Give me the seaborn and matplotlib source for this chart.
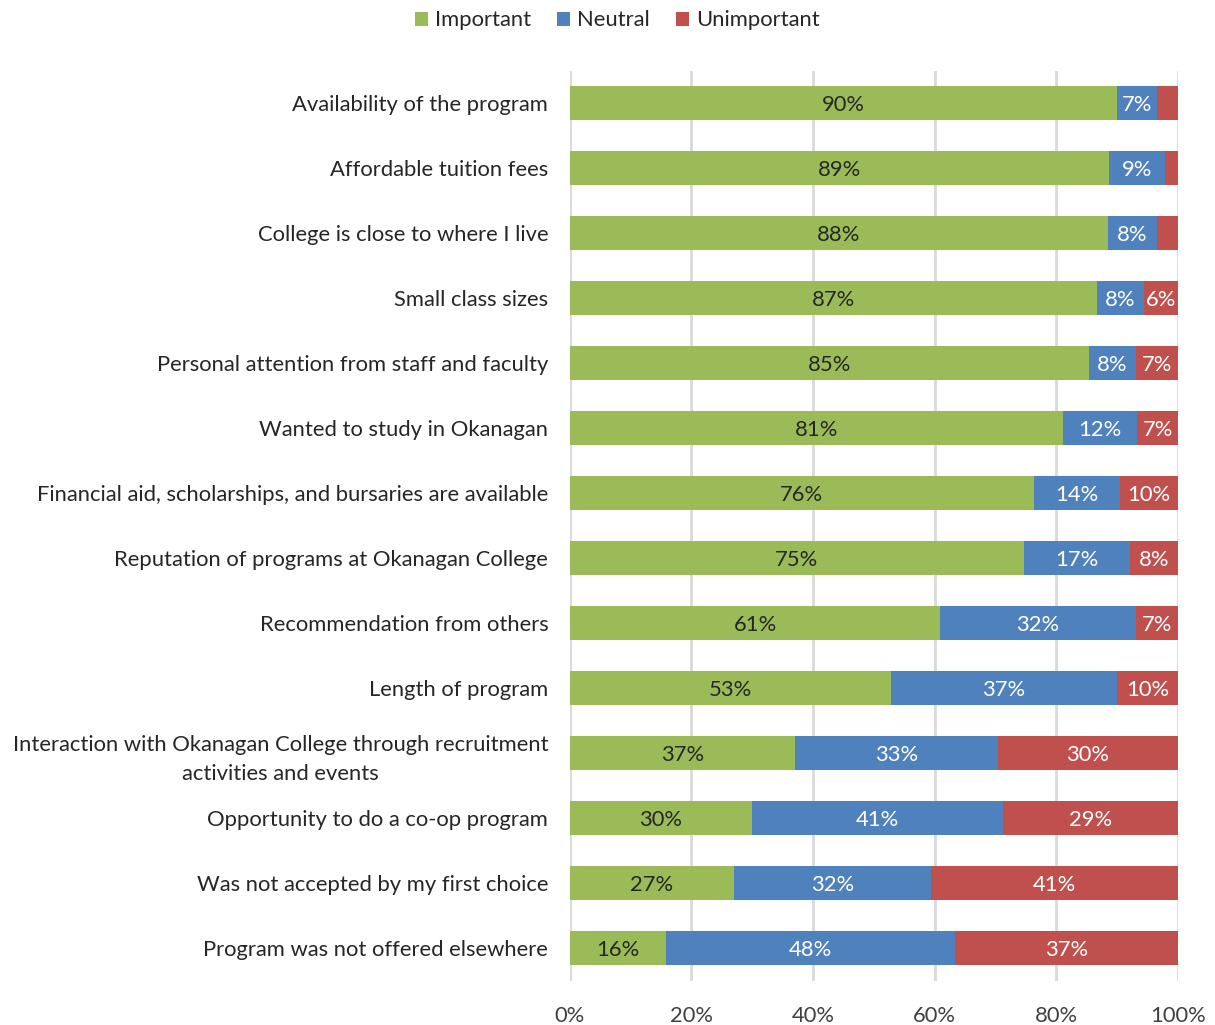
import matplotlib.pyplot as plt
import seaborn as sns
import pandas as pd
import numpy as np

factors = ["Availability of the program",
           "Affordable tuition fees",
           "College is close to where I live",
           "Small class sizes",
           "Personal attention from staff and faculty",
           "Wanted to study in Okanagan",
           "Financial aid, scholarships, and bursaries are available",
           "Reputation of programs at Okanagan College",
           "Recommendation from others",
           "Length of program",
           "Interaction with Okanagan College through recruitment\nactivities and events",
           "Opportunity to do a co-op program",
           "Was not accepted by my first choice",
           "Program was not offered elsewhere"]
important = [90.0, 88.7, 88.5, 86.7, 85.4, 81.1, 76.3, 74.7, 60.9, 52.8, 37.0, 29.9, 27.0, 15.8]
neutral = [6.6, 9.2, 8.0, 7.7, 7.7, 12.2, 14.1, 17.4, 32.2, 37.2, 33.4, 41.4, 32.4, 47.6]
unimportant = [3.4, 2.1, 3.5, 5.6, 6.9, 6.7, 9.6, 7.9, 6.9, 10.0, 29.6, 28.7, 40.6, 36.6]

green, blue, red = "#9BBB59", "#4F81BD", "#C0504D"

df = pd.DataFrame({"factor": factors, "Important": important,
                   "Neutral": neutral, "Unimportant": unimportant})
df["imp_neu"] = df.Important + df.Neutral
df["total"] = df.imp_neu + df.Unimportant

sns.set_style("white")
plt.rcParams['font.family'] = ['Lato', 'DejaVu Sans']

fig = plt.figure(figsize=(12.15, 10.25), dpi=100)
ax = fig.add_axes([0.469, 0.0434, 0.5005, 0.8878])

# stacked look: draw cumulative totals on top of each other
sns.barplot(data=df, y="factor", x="total", color=red, width=0.52, saturation=1,
            orient="h", ax=ax, label="Unimportant", zorder=2, linewidth=0)
sns.barplot(data=df, y="factor", x="imp_neu", color=blue, width=0.52, saturation=1,
            orient="h", ax=ax, label="Neutral", zorder=3, linewidth=0)
sns.barplot(data=df, y="factor", x="Important", color=green, width=0.52, saturation=1,
            orient="h", ax=ax, label="Important", zorder=4, linewidth=0)

fs = 15.8
for i, row in df.iterrows():
    ax.text(row.Important / 2, i, f"{row.Important:.0f}%", ha="center", va="center_baseline",
            fontsize=fs, color="#262626", zorder=5)
    ax.text(row.Important + row.Neutral / 2, i, f"{row.Neutral:.0f}%", ha="center",
            va="center_baseline", fontsize=fs, color="white", zorder=5)
    if row.Unimportant >= 5:
        ax.text(row.imp_neu + row.Unimportant / 2, i, f"{row.Unimportant:.0f}%",
                ha="center", va="center_baseline", fontsize=fs, color="white", zorder=5)

ax.set_xlim(0, 100)
ax.set_xticks(np.arange(0, 101, 20))
ax.set_xticklabels([f"{t}%" for t in range(0, 101, 20)], fontsize=fs, color="#404040")
ax.tick_params(axis="x", length=0, pad=18)
ax.tick_params(axis="y", length=0, pad=15.5, labelsize=fs, labelcolor="#262626")
for lbl in ax.get_yticklabels():
    lbl.set_horizontalalignment("right")
    lbl.set_multialignment("center")
    lbl.set_linespacing(1.55)
ax.set_xlabel("")
ax.set_ylabel("")
ax.xaxis.grid(True, color="#D9D9D9", linewidth=2, zorder=0)
ax.set_axisbelow(True)
for s in ax.spines.values():
    s.set_visible(False)

handles, labels = ax.get_legend_handles_labels()
if ax.get_legend():
    ax.get_legend().remove()
order = [labels.index(n) for n in ["Important", "Neutral", "Unimportant"]]
fig.legend([handles[k] for k in order], [labels[k] for k in order],
           loc="center", bbox_to_anchor=(0.508, 0.98), ncol=3, frameon=False,
           fontsize=fs, handlelength=0.6, handleheight=0.6, handletextpad=0.3,
           columnspacing=1.2, labelcolor="#262626")

fig.savefig("out.png", dpi=100)
